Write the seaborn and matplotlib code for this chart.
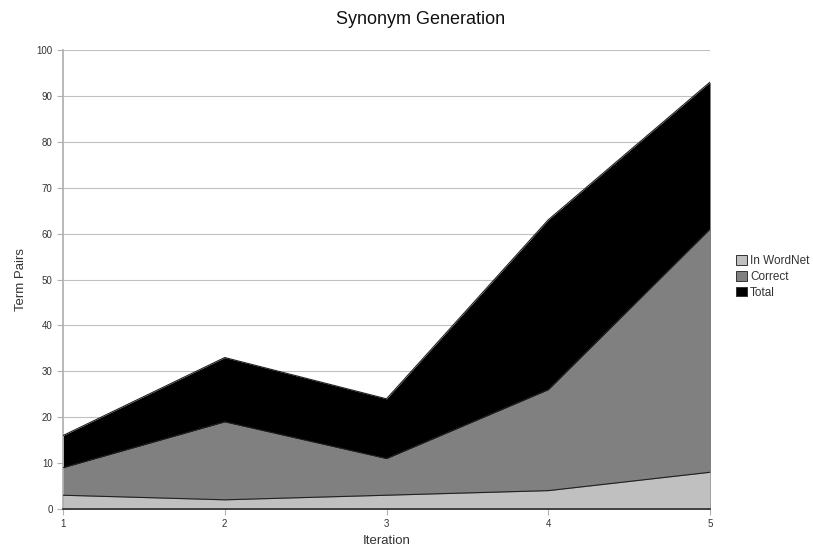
import matplotlib
matplotlib.use("Agg")
import matplotlib.pyplot as plt
import seaborn as sns
import pandas as pd
from matplotlib.patches import Patch

iterations = [1, 2, 3, 4, 5]
total = [16, 33, 24, 63, 93]
correct = [9, 19, 11, 26, 61]
in_wordnet = [3, 2, 3, 4, 8]
series_names = ["In WordNet", "Correct", "Total"]
colors = {"In WordNet": "#c0c0c0", "Correct": "#808080", "Total": "#000000"}

df = pd.DataFrame({"Iteration": iterations * 3,
                   "Series": ["Total"] * 5 + ["Correct"] * 5 + ["In WordNet"] * 5,
                   "Value": total + correct + in_wordnet})

sns.set_theme(style="white")
plt.rcParams['font.family'] = ['Liberation Sans', 'DejaVu Sans']

fig = plt.figure(figsize=(8.13, 5.48), dpi=100)
ax = fig.add_axes([63/813, 1 - 509/548, (710 - 63)/813, (509 - 50)/548])

for name in ["Total", "Correct", "In WordNet"]:
    sub = df[df["Series"] == name]
    ax.fill_between(sub["Iteration"], 0, sub["Value"], color=colors[name], linewidth=0, zorder=2)
    sns.lineplot(data=sub, x="Iteration", y="Value", color="#202020", linewidth=0.8, ax=ax, zorder=3, legend=False)

ax.set_xlim(1, 5)
ax.set_ylim(0, 100)
ax.set_xticks(iterations)
ax.set_yticks(range(0, 101, 10))
ax.yaxis.grid(True, color="#c0c0c0", linewidth=0.8, zorder=0)
ax.set_axisbelow(True)
ax.tick_params(axis="both", labelsize=7, colors="#333333", length=4, width=0.8, direction="out", left=True, bottom=True)
ax.tick_params(axis="y", color="#b0b0b0")
ax.tick_params(axis="x", color="#b0b0b0")
for s in ["top", "right"]:
    ax.spines[s].set_visible(False)
ax.spines["left"].set_color("#b0b0b0")
ax.spines["bottom"].set_color("#333333")
ax.spines["bottom"].set_zorder(4)
ax.set_xlabel("Iteration", fontsize=9.5, color="#333333", labelpad=4)
ax.set_ylabel("Term Pairs", fontsize=9.5, color="#333333", labelpad=7)
fig.suptitle("Synonym Generation", fontsize=13, x=421 / 813, y=1 - 20 / 548, va="center", color="#111111")

handles = [Patch(facecolor=colors[n], edgecolor="#333333", linewidth=0.7, label=n) for n in series_names]
leg = fig.legend(handles=handles, loc="center left", bbox_to_anchor=(736/813, 1 - 277/548),
                 frameon=False, fontsize=8.5, handlelength=0.9, handleheight=0.9,
                 handletextpad=0.3, labelspacing=0.3, borderaxespad=0, borderpad=0)
for t in leg.get_texts():
    t.set_color("#333333")

fig.savefig("out.png", dpi=100)
